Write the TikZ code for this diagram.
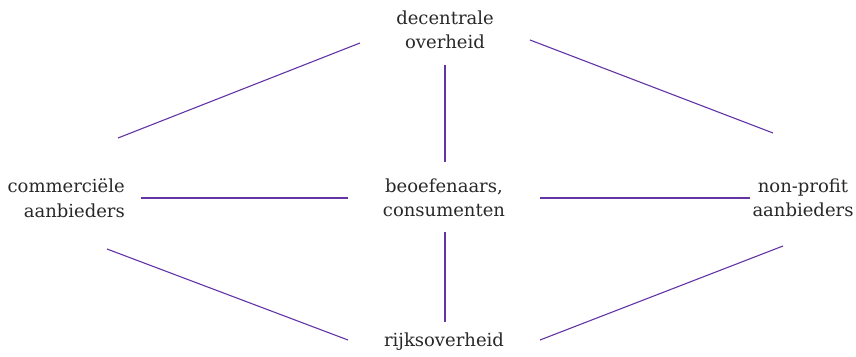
\documentclass[tikz,border=0pt]{standalone}
\usepackage{fontspec}
\setmainfont{DejaVu Serif}
\definecolor{linec}{RGB}{98,52,165}
\definecolor{txt}{RGB}{40,40,40}
\begin{document}
\begin{tikzpicture}[x=1pt,y=-1pt,
  lbl/.style={font=\fontsize{18}{24.5}\selectfont, text=txt, inner sep=0pt},
  conn/.style={draw=linec, line width=1.1pt}]
\useasboundingbox (0,0) rectangle (856,356);
\node[lbl, align=center] (top) at (445,30) {decentrale\\overheid};
\node[lbl, align=center] (mid) at (444,198) {beoefenaars,\\consumenten};
\node[lbl, align=right, anchor=east] (left) at (125,198) {commerciële\\aanbieders};
\node[lbl, align=center] (right) at (803,198) {non-profit\\aanbieders};
\node[lbl] (bot) at (444,342) {rijksoverheid};
\coordinate (a1) at (118,138); \coordinate (a2) at (360,43);
\coordinate (b1) at (530,40); \coordinate (b2) at (773,133);
\coordinate (c1) at (445,65); \coordinate (c2) at (445,162);
\coordinate (d1) at (141,198); \coordinate (d2) at (348,198);
\coordinate (e1) at (540,198); \coordinate (e2) at (750,198);
\coordinate (f1) at (445,232); \coordinate (f2) at (445,322);
\coordinate (g1) at (107,249); \coordinate (g2) at (348,340);
\coordinate (h1) at (540,340); \coordinate (h2) at (783,246);
\draw[conn] (a1) -- (a2);
\draw[conn] (b1) -- (b2);
\draw[conn] (c1) -- (c2);
\draw[conn] (d1) -- (d2);
\draw[conn] (e1) -- (e2);
\draw[conn] (f1) -- (f2);
\draw[conn] (g1) -- (g2);
\draw[conn] (h1) -- (h2);
\end{tikzpicture}
\end{document}
